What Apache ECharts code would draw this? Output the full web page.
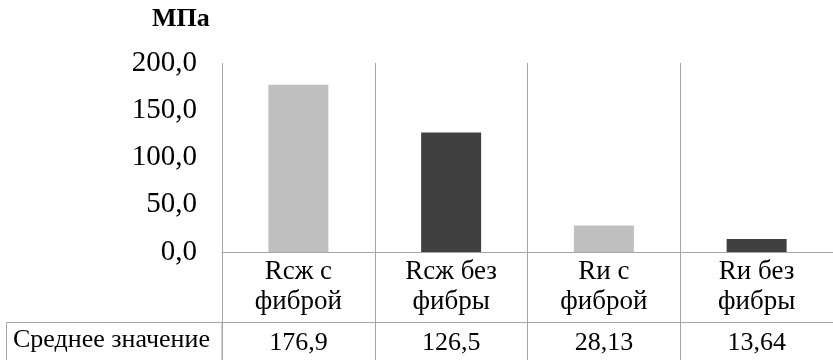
<!DOCTYPE html>
<html>
<head>
<meta charset="utf-8">
<script src="https://cdn.jsdelivr.net/npm/echarts@6/dist/echarts.min.js"></script>
<style>
  html, body { margin: 0; padding: 0; background: #fff; }
  #chart { width: 833px; height: 360px; }
</style>
</head>
<body>
<div id="chart"></div>
<script>
// Strength values, MPa
const categories = ['Rсж с\nфиброй', 'Rсж без\nфибры', 'Rи с\nфиброй', 'Rи без\nфибры'];
const values = [176.9, 126.5, 28.13, 13.64];
const barColors = ['#bfbfbf', '#404040', '#bfbfbf', '#404040'];
const rowTitle = 'Среднее значение';
const unitLabel = 'МПа';

const FONT = 'Liberation Serif';
const LINE = '#a6a6a6';

const fmtComma = v => String(v).replace('.', ',');

const chart = echarts.init(document.getElementById('chart'), null, { renderer: 'canvas' });

chart.setOption({
  animation: false,
  backgroundColor: '#fff',
  textStyle: { fontFamily: FONT },
  title: {
    text: unitLabel,
    left: 147,
    top: 1,
    textStyle: { fontFamily: FONT, fontSize: 26, fontWeight: 'bold', color: '#000' }
  },
  grid: { left: 222, top: 63, width: 612, height: 189, containLabel: false },
  xAxis: [
    {
      // category row of the data table; ticks run down through the table as cell borders
      type: 'category',
      data: categories,
      boundaryGap: true,
      axisLine: { show: true, lineStyle: { color: LINE, width: 1 } },
      axisTick: { show: true, interval: 0, length: 110, lineStyle: { color: LINE, width: 1 } },
      splitLine: { show: true, interval: 0, lineStyle: { color: LINE, width: 1 } },
      axisLabel: {
        interval: 0, margin: 5, fontFamily: FONT, fontSize: 27, lineHeight: 30,
        color: '#000', align: 'center'
      }
    },
    {
      // value row of the data table
      type: 'category',
      position: 'bottom',
      offset: 70,
      data: values.map(fmtComma),
      boundaryGap: true,
      axisLine: { show: true, lineStyle: { color: LINE, width: 1 } },
      axisTick: { show: false },
      splitLine: { show: false },
      axisLabel: { interval: 0, margin: 8, fontFamily: FONT, fontSize: 26, color: '#000' }
    }
  ],
  yAxis: {
    type: 'value',
    min: 0,
    max: 200,
    interval: 50,
    axisLine: { show: false },
    axisTick: { show: false },
    splitLine: { show: false },
    axisLabel: {
      margin: 25, fontFamily: FONT, fontSize: 29, color: '#000',
      formatter: v => v.toFixed(1).replace('.', ',')
    }
  },
  series: [
    {
      type: 'bar',
      xAxisIndex: 0,
      barWidth: 60,
      data: values.map((v, i) => ({ value: v, itemStyle: { color: barColors[i] } }))
    }
  ],
  graphic: [
    {
      type: 'rect',
      shape: { x: 6.5, y: 322.5, width: 215.5, height: 60 },
      style: { fill: null, stroke: LINE, lineWidth: 1 },
      silent: true
    },
    {
      type: 'text',
      left: 13,
      top: 327,
      style: { text: rowTitle, fontFamily: FONT, fontSize: 26, fill: '#000' },
      silent: true
    }
  ]
});
</script>
</body>
</html>
